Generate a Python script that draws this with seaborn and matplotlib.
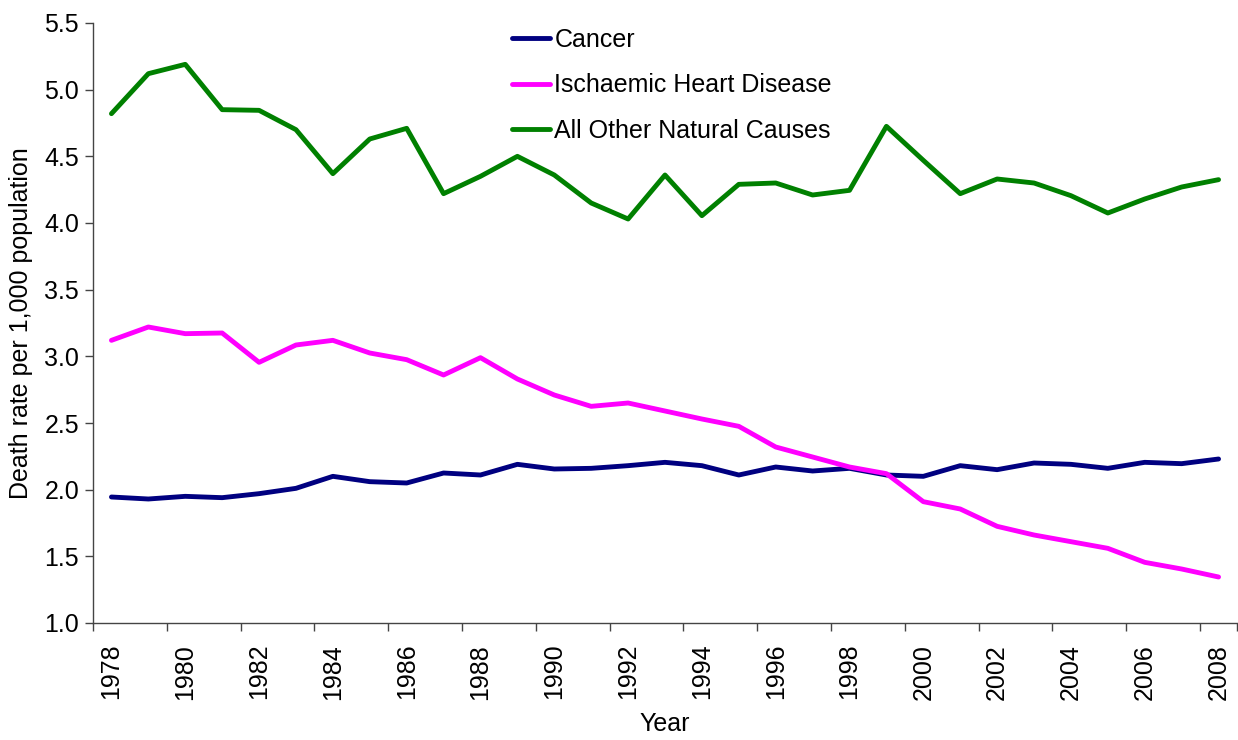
import numpy as np
import pandas as pd
import matplotlib
matplotlib.use("Agg")
import matplotlib.pyplot as plt
import seaborn as sns

years = list(range(1978, 2009))
cancer = [1.945, 1.93, 1.95, 1.94, 1.97, 2.01, 2.10, 2.06, 2.05, 2.125, 2.11,
          2.19, 2.155, 2.16, 2.18, 2.205, 2.18, 2.11, 2.17, 2.14, 2.16, 2.11,
          2.10, 2.18, 2.15, 2.20, 2.19, 2.16, 2.205, 2.195, 2.23]
ihd = [3.12, 3.22, 3.17, 3.175, 2.955, 3.085, 3.12, 3.025, 2.975, 2.86, 2.99,
       2.83, 2.71, 2.625, 2.65, 2.59, 2.53, 2.475, 2.32, 2.245, 2.17, 2.12,
       1.91, 1.855, 1.725, 1.66, 1.61, 1.56, 1.455, 1.405, 1.345]
other = [4.82, 5.12, 5.19, 4.85, 4.845, 4.70, 4.37, 4.63, 4.71, 4.22, 4.35,
         4.50, 4.36, 4.15, 4.03, 4.36, 4.055, 4.29, 4.30, 4.21, 4.245, 4.725,
         4.47, 4.22, 4.33, 4.30, 4.205, 4.075, 4.18, 4.27, 4.325]
series_names = ["Cancer", "Ischaemic Heart Disease", "All Other Natural Causes"]
colors = ["#000080", "#FF00FF", "#008000"]

df = pd.concat([
    pd.DataFrame({"Year": years, "Rate": vals, "Cause": name})
    for name, vals in zip(series_names, [cancer, ihd, other])
], ignore_index=True)

sns.set_theme(style="white")
plt.rcParams['font.family'] = ['Liberation Sans', 'DejaVu Sans']
plt.rcParams['text.color'] = 'black'
plt.rcParams['axes.labelcolor'] = 'black'
plt.rcParams['xtick.color'] = 'black'
plt.rcParams['ytick.color'] = 'black'

W, H = 1238, 740
fig = plt.figure(figsize=(W / 100, H / 100), dpi=100)
ax = fig.add_axes([93 / W, (H - 623) / H, 1144 / W, 600 / H])

sns.lineplot(data=df, x="Year", y="Rate", hue="Cause", hue_order=series_names,
             palette=colors, linewidth=3.5, ax=ax, legend=True)

ax.set_xlim(years[0] - 0.5, years[-1] + 0.5)
ax.set_ylim(1.0, 5.5)
yt = np.arange(1.0, 5.51, 0.5)
ax.set_yticks(yt)
ax.set_yticklabels([f"{v:.1f}" for v in yt], fontsize=18)

# tick marks at category boundaries, labels at every other category
ax.set_xticks([y - 0.5 for y in years[::2]] + [years[-1] + 0.5])
ax.set_xticklabels([])
ax.set_xticks(years[::2], minor=True)
ax.set_xticklabels([str(y) for y in years[::2]], minor=True, rotation=90, fontsize=18)
ax.tick_params(axis="x", which="major", direction="out", length=6, width=1, color="#444444", bottom=True)
ax.tick_params(axis="x", which="minor", length=0, pad=15, bottom=True)
ax.tick_params(axis="y", direction="out", length=6, width=1, color="#444444", left=True, pad=4)

for s in ["top", "right"]:
    ax.spines[s].set_visible(False)
for s in ["left", "bottom"]:
    ax.spines[s].set_color("#444444")
    ax.spines[s].set_linewidth(1)

ax.set_xlabel("Year", fontsize=18, labelpad=9)
ax.set_ylabel("Death rate per 1,000 population", fontsize=18, labelpad=8)
ax.grid(False)

handles, labels = ax.get_legend_handles_labels()
leg = ax.legend(handles, labels, loc="upper left",
                bbox_to_anchor=(512 / W, 1 - 28 / H), bbox_transform=fig.transFigure,
                frameon=False, fontsize=18, handlelength=1.5, handletextpad=0.2,
                labelspacing=0.85, borderpad=0, borderaxespad=0)
for line in leg.get_lines():
    line.set_linewidth(3.5)

fig.savefig("out.png", dpi=100)
